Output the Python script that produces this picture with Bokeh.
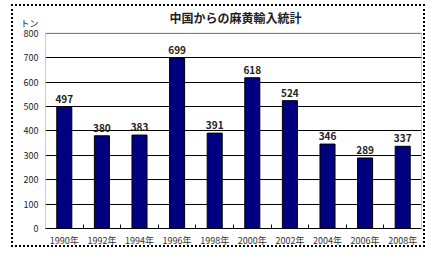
from bokeh.plotting import figure
from bokeh.models import ColumnDataSource, FixedTicker, Range1d, LabelSet
from bokeh.core.properties import value
from bokeh.embed import file_html
from bokeh.resources import INLINE

years = ["1990年", "1992年", "1994年", "1996年", "1998年", "2000年", "2002年", "2004年", "2006年", "2008年"]
tons = [497, 380, 383, 699, 391, 618, 524, 346, 289, 337]
y_ticks = [0, 100, 200, 300, 400, 500, 600, 700, 800]
title_text = "中国からの麻黄輸入統計"
unit_text = "トン"

FONT = "Noto Sans CJK JP"
Y_MAX = 800
Y_TOP = 910          # extra room above the plot area for the title
UNIT_POS = 840       # where the unit text sits
TITLE_POS = 865

xs = [i + 0.5 for i in range(len(years))]
src = ColumnDataSource(dict(x=xs, top=tons, lab=[str(v) for v in tons]))

p = figure(width=414, height=243, output_backend="svg", toolbar_location=None,
           x_range=Range1d(0, len(years)), y_range=Range1d(0, Y_TOP),
           min_border_left=32, min_border_right=6, min_border_top=0, min_border_bottom=20)
p.styles = {"margin-left": "11px", "margin-top": "4px", "border": "2px dotted #000"}
p.outline_line_color = None
p.background_fill_color = "white"
p.border_fill_color = "white"

# plot-area box
p.quad(left=[0], right=[len(years)], bottom=[0], top=[Y_MAX], fill_color=None,
       line_color="#999999", line_width=1)

p.vbar(x="x", top="top", width=0.4, source=src, fill_color="#000080", line_color="#000000", line_width=1)

p.add_layout(LabelSet(x="x", y="top", text="lab", source=src, y_offset=4, text_align="center",
                      text_font=value(FONT), text_font_size="10px", text_font_style="bold",
                      text_color="#222222"))

p.text(x=[len(years) / 2 + 0.05], y=[TITLE_POS], text=[title_text], text_align="center",
       text_baseline="middle", text_font=value(FONT), text_font_size="12px",
       text_font_style="bold", text_color="#222222")

p.xaxis.ticker = FixedTicker(ticks=xs, minor_ticks=list(range(1, len(years))))
p.xaxis.major_label_overrides = {x: y for x, y in zip(xs, years)}
p.xaxis.major_tick_line_color = None
p.xaxis.major_tick_out = 0
p.xaxis.major_tick_in = 0
p.xaxis.minor_tick_in = 4
p.xaxis.minor_tick_out = 0
p.xaxis.minor_tick_line_color = "#000000"
p.xaxis.axis_line_color = "#000000"
p.xaxis.major_label_text_font = FONT
p.xaxis.major_label_text_font_size = "9px"
p.xaxis.major_label_text_color = "#333333"
p.xaxis.major_label_standoff = 5

p.yaxis.ticker = FixedTicker(ticks=y_ticks + [UNIT_POS])
p.yaxis.major_label_overrides = {UNIT_POS: unit_text}
p.yaxis.major_tick_line_color = None
p.yaxis.major_tick_out = 0
p.yaxis.major_tick_in = 0
p.yaxis.minor_tick_line_color = None
p.yaxis.axis_line_color = None
p.yaxis.major_label_text_font = FONT
p.yaxis.major_label_text_font_size = "9px"
p.yaxis.major_label_text_color = "#222222"
p.yaxis.major_label_standoff = 7

p.xgrid.grid_line_color = None
p.ygrid.ticker = FixedTicker(ticks=y_ticks)
p.ygrid.grid_line_color = "#000000"
p.ygrid.grid_line_width = 1

open("out.html", "w").write(file_html(p, INLINE))
